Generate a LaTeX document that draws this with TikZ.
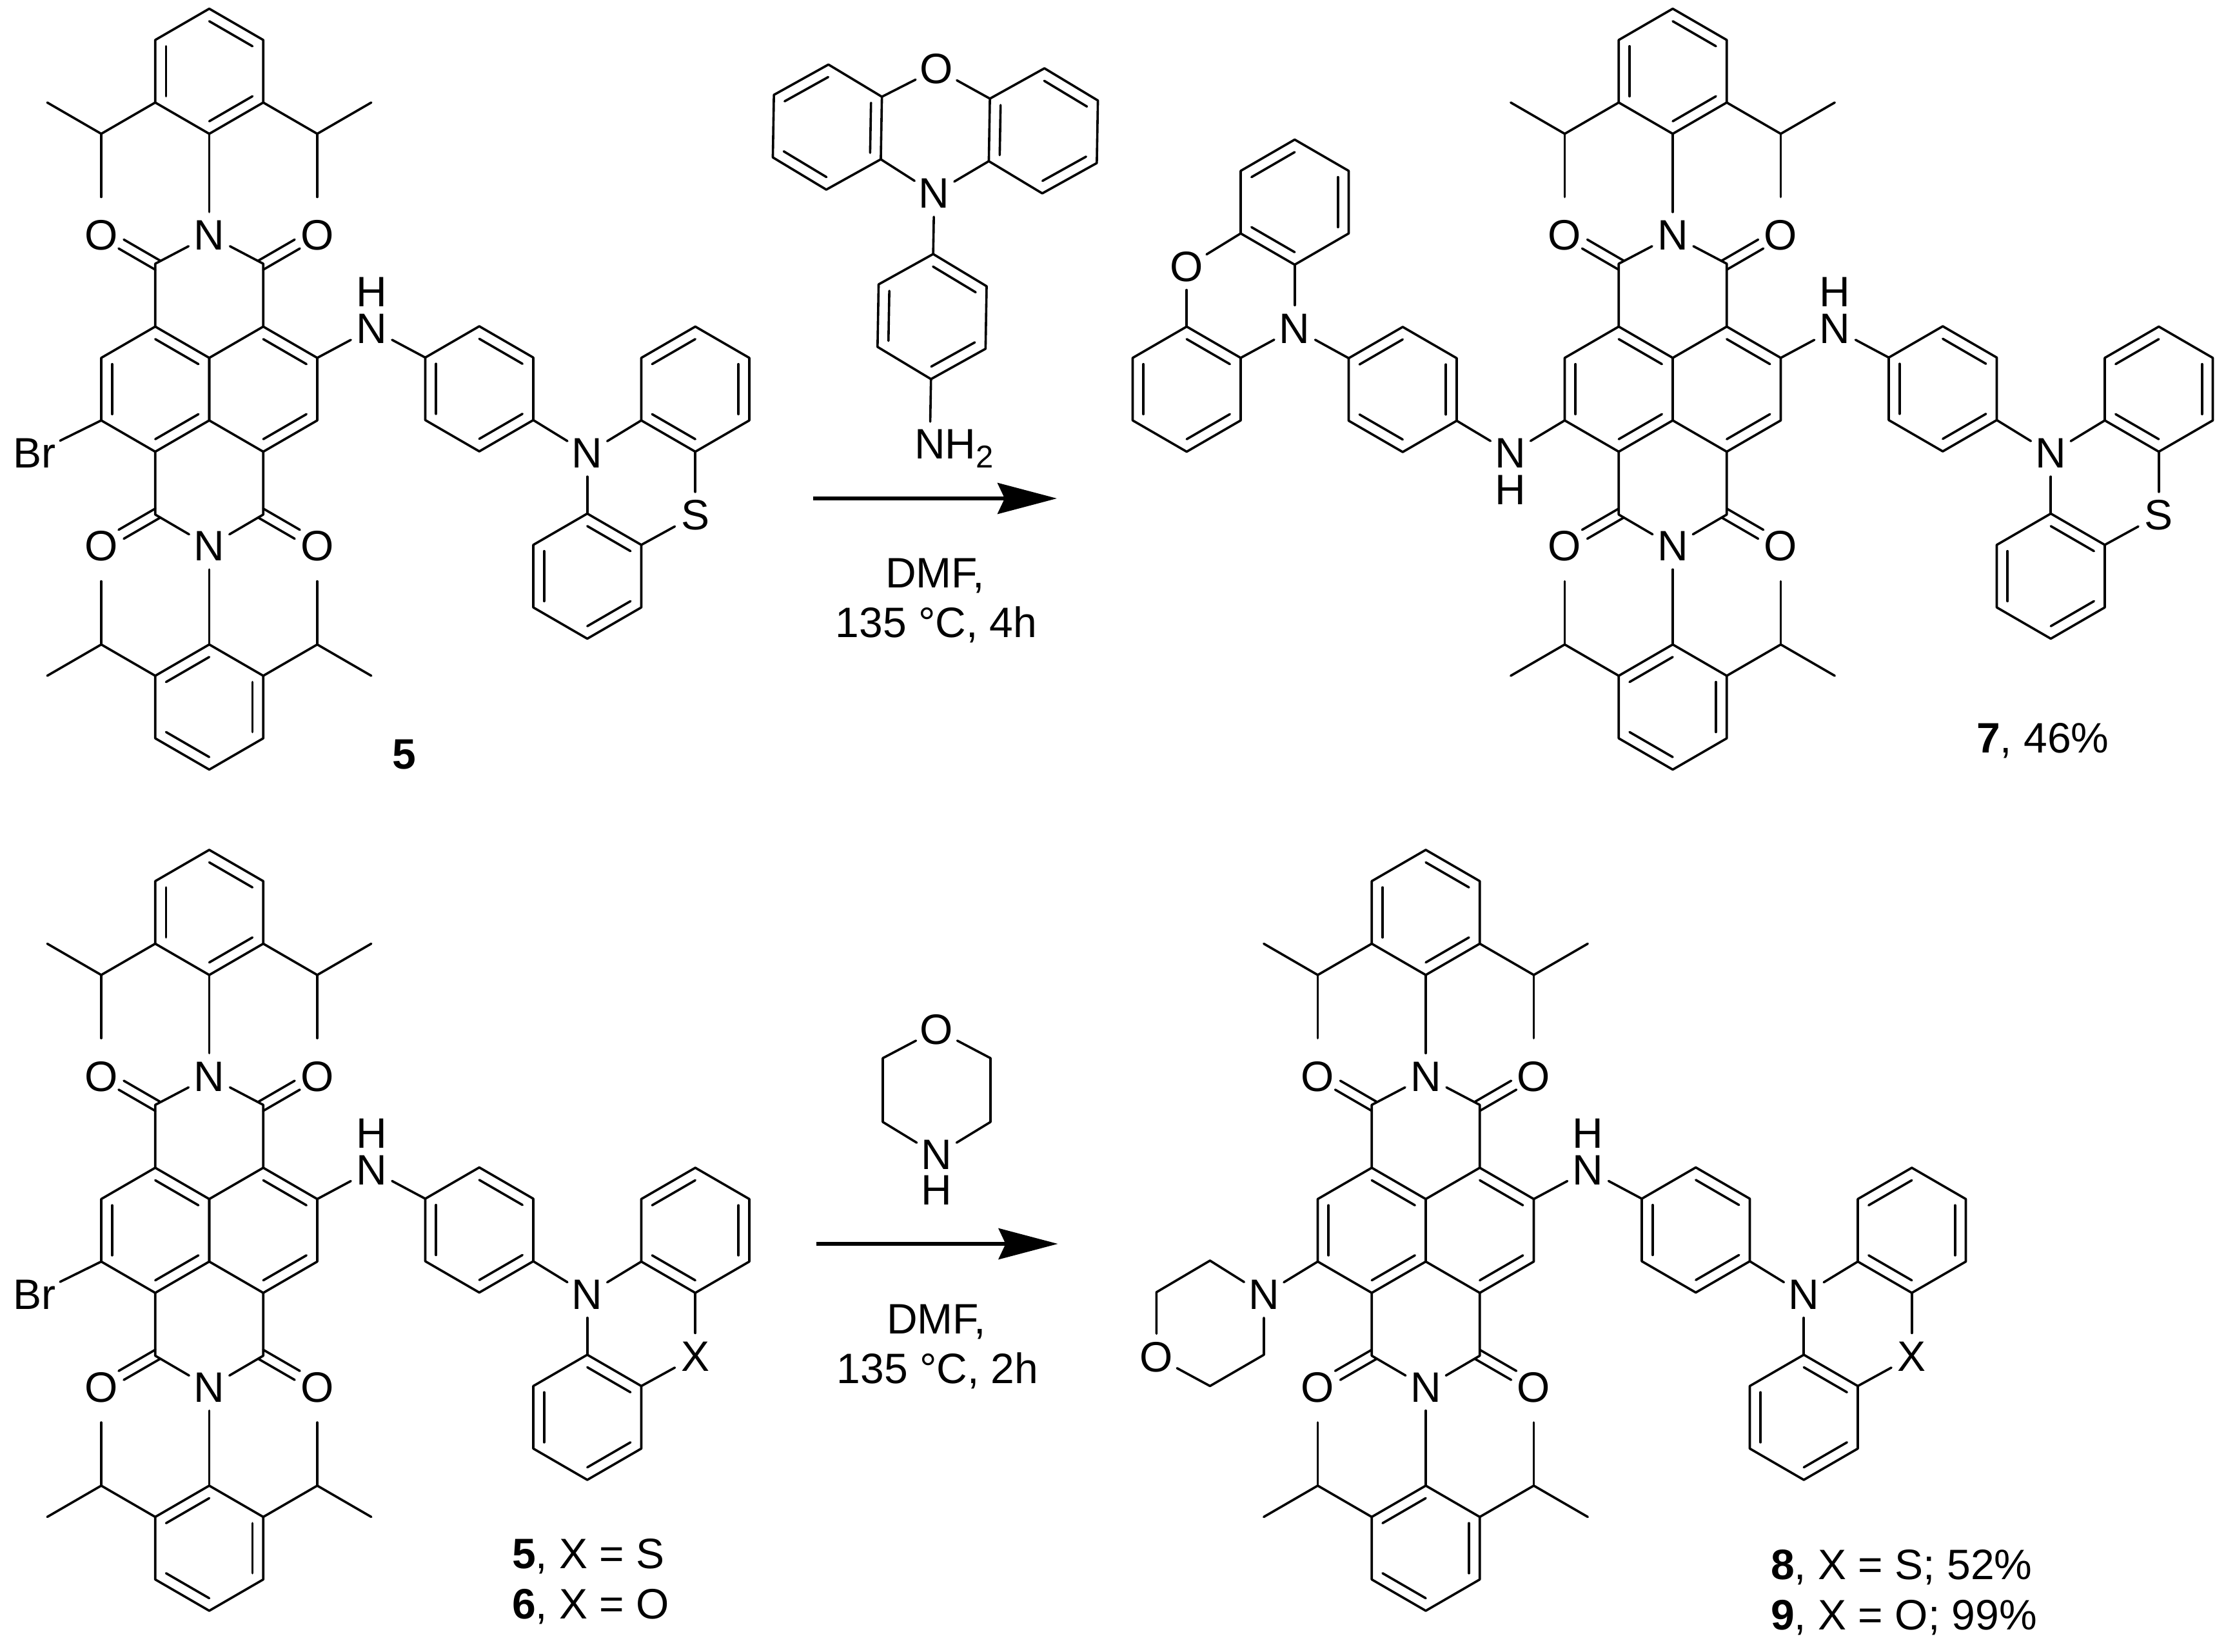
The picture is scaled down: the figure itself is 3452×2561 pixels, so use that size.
\documentclass[tikz,border=0pt]{standalone}
\usepackage{fontspec}
\setmainfont{Liberation Sans}
\usetikzlibrary{calc,arrows.meta}
\newcommand{\chemfont}{\fontsize{66}{78}\selectfont}
\tikzset{
  bond/.style={line width=3.6pt,line cap=round,line join=round},
  atom/.style={circle,inner sep=0pt,minimum size=72pt,font=\chemfont},
  wideatom/.style={circle,inner sep=0pt,minimum size=88pt,font=\chemfont},
  txt/.style={inner sep=0pt,font=\chemfont},
  rxn/.style={line width=5.5pt,-{Stealth[length=92pt,width=48pt,inset=11pt]}}
}
\def\dA{1/2,3/4,5/6}
\def\dB{2/3,4/5,6/1}
\def\dC{1/2,3/4}
% ring: name, centre x, centre y, list of double bonds
\newcommand{\hexa}[4]{%
  \coordinate (#1c) at ({#2},{#3});
  \coordinate (#11) at ({#2},{#3-97});
  \coordinate (#12) at ({#2+83.75},{#3-48.5});
  \coordinate (#13) at ({#2+83.75},{#3+48.5});
  \coordinate (#14) at ({#2},{#3+97});
  \coordinate (#15) at ({#2-83.75},{#3+48.5});
  \coordinate (#16) at ({#2-83.75},{#3-48.5});
  \draw[bond] (#11) -- (#12) -- (#13) -- (#14) -- (#15) -- (#16) -- cycle;
  \foreach \p/\q in #4 {\draw[bond] ($(#1\p)!.2!(#1c)$) -- ($(#1\q)!.2!(#1c)$);}
}
% carbonyl: carbon, lattice position of the oxygen
\newcommand{\cod}[2]{%
  \draw[bond] ($($(#1)!-4.7pt!(#2)$)!8pt!90:(#2)$) -- ($($(#1)!61pt!(#2)$)!8pt!90:(#2)$);
  \draw[bond] ($($(#1)!-4.7pt!(#2)$)!-8pt!90:(#2)$) -- ($($(#1)!61pt!(#2)$)!-8pt!90:(#2)$);
}
% isopropyl: ring atom, name, sx, sy
\newcommand{\ipr}[4]{%
  \coordinate (#2ch) at ({#3*167.5},{#4*396});
  \coordinate (#2ma) at ({#3*251.25},{#4*444.5});
  \coordinate (#2mb) at ({#3*167.5},{#4*298});
  \draw[bond] (#1) -- (#2ch) -- (#2ma);
  \draw[bond] (#2ch) -- (#2mb);
}
% naphthalene diimide core with its two diisopropylphenyl groups
\newcommand{\ndicore}{%
  \hexa{cl}{-83.75}{0}{\dA}
  \hexa{cr}{83.75}{0}{\dC}
  \coordinate (ctl) at (-83.75,-194.5);
  \coordinate (ctr) at (83.75,-194.5);
  \coordinate (cbl) at (-83.75,194.5);
  \coordinate (cbr) at (83.75,194.5);
  \coordinate (latl) at (-167.5,-243);
  \coordinate (latr) at (167.5,-243);
  \coordinate (labl) at (-167.5,243);
  \coordinate (labr) at (167.5,243);
  \node[atom] (nt) at (0,-238.5) {N};
  \node[atom] (nb) at (0,243.5) {N};
  \node[atom] (otl) at (-167.5,-238.5) {O};
  \node[atom] (otr) at (167.5,-238.5) {O};
  \node[atom] (obl) at (-167.5,243.5) {O};
  \node[atom] (obr) at (167.5,243.5) {O};
  \draw[bond] (cl1) -- (ctl) -- (nt);
  \draw[bond] (cr1) -- (ctr) -- (nt);
  \draw[bond] (cl4) -- (cbl) -- (nb);
  \draw[bond] (cr4) -- (cbr) -- (nb);
  \cod{ctl}{latl}\cod{ctr}{latr}\cod{cbl}{labl}\cod{cbr}{labr}
  \hexa{ta}{0}{-493}{\dA}
  \hexa{ba}{0}{493}{\dB}
  \draw[bond] (nt) -- (ta4);
  \draw[bond] (nb) -- (ba1);
  \ipr{ta5}{il}{-1}{-1}
  \ipr{ta3}{ir}{1}{-1}
  \ipr{ba6}{jl}{-1}{1}
  \ipr{ba2}{jr}{1}{1}
}
% amino-aryl-phenothiazine/phenoxazine arm:
% prefix, rotation, core atom, heteroatom, shift of the labels in local y
\newcommand{\arm}[5]{%
  \begin{scope}[rotate=#2]
    \hexa{#1a}{418.75}{-0.5}{\dA}
    \hexa{#1u}{753.75}{0}{\dB}
    \hexa{#1d}{586.25}{290}{\dA}
    \node[atom] (#1nh) at (251.5,{-93.5-#5}) {N};
    \node[txt] (#1hh) at (251.5,{-150.5-#5}) {H};
    \node[atom] (#1n) at (586.25,{99.5-#5}) {N};
    \node[atom] (#1x) at (753.75,{195.5-#5}) {#4};
    \draw[bond] (#3) -- (#1nh);
    \draw[bond] (#1nh) -- (#1a6);
    \draw[bond] (#1a3) -- (#1n);
    \draw[bond] (#1n) -- (#1u5);
    \draw[bond] (#1n) -- (#1d1);
    \draw[bond] (#1u4) -- (#1x);
    \draw[bond] (#1d2) -- (#1x);
  \end{scope}
}
\newcommand{\bromo}{%
  \node[wideatom] (br) at (-271,99.5) {Br};
  \draw[bond] (cl5) -- (br);
}
\begin{document}
\begin{tikzpicture}[x=1pt,y=-1pt]
\path[use as bounding box,fill=white] (0,0) rectangle (3452,2561);

% compound 5
\begin{scope}[shift={(324.5,603.5)},name prefix=ma-]
  \ndicore
  \arm{r}{0}{cr2}{S}{0}
  \bromo
\end{scope}
\node[txt,anchor=base] (lab5) at (627,1192) {\textbf{5}};

% compound 7
\begin{scope}[shift={(2594,603.5)},name prefix=mb-]
  \ndicore
  \arm{r}{0}{cr2}{S}{0}
  \arm{l}{180}{cl5}{O}{5.5}
\end{scope}
\node[txt,anchor=base west] (lab7) at (3065,1167) {\textbf{7}, 46\%};

% compounds 5, 6
\begin{scope}[shift={(324.5,1908)},name prefix=mc-]
  \ndicore
  \arm{r}{0}{cr2}{X}{0}
  \bromo
\end{scope}
\node[txt,anchor=base west] (lab5b) at (794,2432) {\textbf{5}, X = S};
\node[txt,anchor=base west] (lab6) at (794,2510) {\textbf{6}, X = O};

% compounds 8, 9
\begin{scope}[shift={(2211,1908)},name prefix=md-]
  \ndicore
  \arm{r}{0}{cr2}{X}{0}
  \node[atom] (mn) at (-251,99.5) {N};
  \coordinate (m1) at (-334.6,47);
  \coordinate (m2) at (-417.6,96);
  \node[atom] (mo) at (-417.6,196.5) {O};
  \coordinate (m3) at (-334.6,241.5);
  \coordinate (m4) at (-251,193);
  \draw[bond] (cl5) -- (mn);
  \draw[bond] (mn) -- (m1) -- (m2) -- (mo);
  \draw[bond] (mo) -- (m3) -- (m4) -- (mn);
\end{scope}
\node[txt,anchor=base west] (lab8) at (2746,2449) {\textbf{8}, X = S; 52\%};
\node[txt,anchor=base west] (lab9) at (2746,2527) {\textbf{9}, X = O; 99\%};

% reagent: aminophenyl phenoxazine
\begin{scope}[shift={(1450.5,200)},rotate=-1,name prefix=ra-]
  \hexa{l}{-167.5}{0}{\dB}
  \hexa{r}{167.5}{0}{\dA}
  \hexa{a}{0}{291}{\dA}
  \node[atom] (o) at (0,-93) {O};
  \node[atom] (n) at (0,100) {N};
  \coordinate (nhend) at (0,454);
  \draw[bond] (l2) -- (o);
  \draw[bond] (r6) -- (o);
  \draw[bond] (l3) -- (n);
  \draw[bond] (r5) -- (n);
  \draw[bond] (n) -- (a1);
  \draw[bond] (a4) -- (nhend);
\end{scope}
\node[txt,anchor=base west] (nh2) at (1418,711) {NH\raisebox{-14pt}{\fontsize{49}{49}\selectfont 2}};

% reagent: morpholine
\node[atom] (mrO) at (1452.5,1597) {O};
\node[atom] (mrN) at (1452.5,1791) {N};
\node[txt] (mrH) at (1452.5,1846) {H};
\coordinate (mr1) at (1536,1641);
\coordinate (mr2) at (1536,1740);
\coordinate (mr3) at (1369,1740);
\coordinate (mr4) at (1369,1641);
\draw[bond] (mrO) -- (mr1) -- (mr2) -- (mrN);
\draw[bond] (mrN) -- (mr3) -- (mr4) -- (mrO);

% arrows
\coordinate (a1s) at (1261,773);
\coordinate (a1e) at (1639,773);
\coordinate (a2s) at (1266,1929);
\coordinate (a2e) at (1640.5,1929);
\draw[rxn] (a1s) -- (a1e);
\draw[rxn] (a2s) -- (a2e);

% conditions
\node[txt,anchor=base] (c1a) at (1450,911) {DMF,};
\node[txt,anchor=base] (c1b) at (1452,988) {135 °C, 4h};
\node[txt,anchor=base] (c2a) at (1452,2068) {DMF,};
\node[txt,anchor=base] (c2b) at (1454,2145) {135 °C, 2h};
\end{tikzpicture}
\end{document}
